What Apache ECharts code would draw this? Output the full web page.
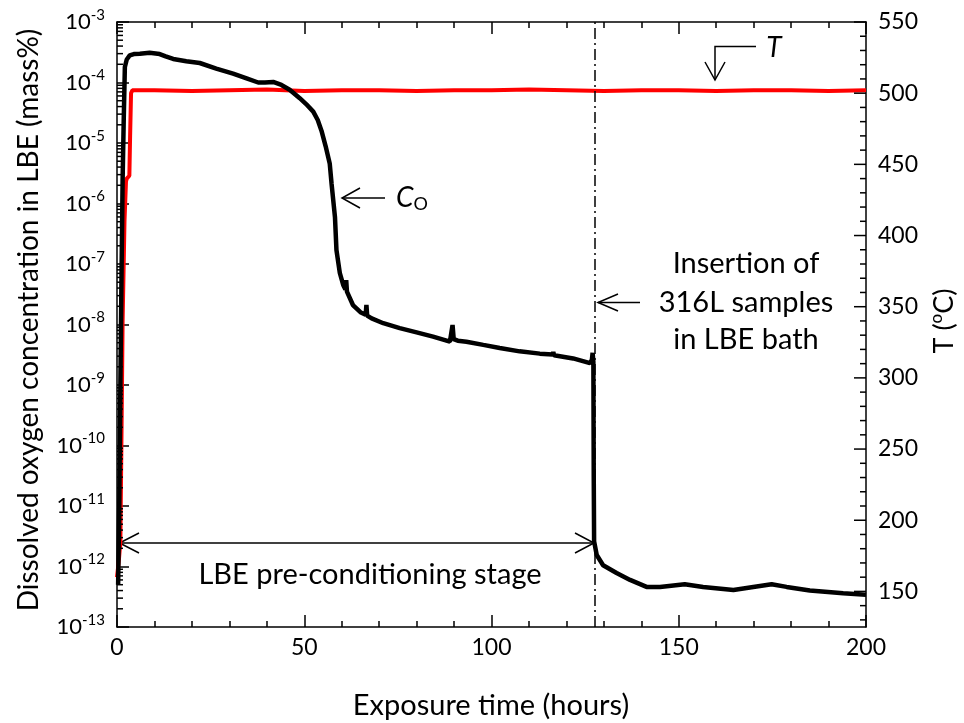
<!DOCTYPE html>
<html><head><meta charset="utf-8">
<script src="https://cdn.jsdelivr.net/npm/echarts@6/dist/echarts.min.js"></script>
<style>html,body{margin:0;padding:0;background:#fff}#c{width:964px;height:723px}</style>
</head><body><div id="c"></div>
<script>
// ---- data ----
const timeCo = [0.3,0.6,0.9,1.2,1.5,1.8,2.1,2.6,3.4,4.5,6.1,8.7,11.4,13,15,18.5,22.1,26.5,31,34.6,37.7,39.5,41.7,43.9,46.1,48.8,50.5,52.4,53.6,54.6,55.7,56.8,57.3,58.2,58.6,59.5,60.4,61.0,61.2,61.4,63,65,66.4,66.6,66.8,68,71.1,75.5,80,84.4,88.9,89.4,89.6,89.9,91,93.3,97.8,102.2,107.5,112.9,116.3,116.5,116.7,121.8,126.3,126.8,127.0,127.2,127.3,127.4,128.1,129.8,133.4,137,141.4,145,151.6,156.5,164.6,169.9,174.8,178.8,185,193.9,200];
const oxygenCo = [5.0e-13,1.0e-11,1.0e-9,6.3e-8,2.5e-6,2.5e-5,1.8e-4,2.4e-4,2.8e-4,2.95e-4,3.0e-4,3.1e-4,2.95e-4,2.7e-4,2.45e-4,2.25e-4,2.1e-4,1.7e-4,1.4e-4,1.17e-4,1.0e-4,1.0e-4,1.02e-4,9.1e-5,7.6e-5,5.5e-5,4.4e-5,3.3e-5,2.4e-5,1.6e-5,8.9e-6,4.6e-6,2.1e-6,6.0e-7,1.7e-7,7.1e-8,4.5e-8,3.8e-8,5.4e-8,3.5e-8,2.1e-8,1.6e-8,1.45e-8,2.1e-8,1.4e-8,1.26e-8,1.05e-8,8.7e-9,7.4e-9,6.3e-9,5.2e-9,5.6e-9,9.8e-9,5.75e-9,5.4e-9,5.2e-9,4.6e-9,4.1e-9,3.6e-9,3.3e-9,3.2e-9,3.5e-9,3.1e-9,2.75e-9,2.3e-9,2.6e-9,3.4e-9,2.4e-9,3.2e-11,2.6e-12,1.55e-12,1.05e-12,7.8e-13,6.0e-13,4.6e-13,4.6e-13,5.1e-13,4.6e-13,4.1e-13,4.6e-13,5.1e-13,4.6e-13,4.0e-13,3.6e-13,3.4e-13];
const timeT = [0,0.5,0.9,1.2,1.5,2.0,2.4,2.6,3.3,3.5,3.75,4.1,10,20,30,40,50,60,70,80,90,100,110,120,130,140,150,160,170,180,190,200];
const tempT = [160,172,185,260,340,410,438,440,442,470,500,502,502,501.5,502,502.5,501.5,502,502,501.5,502,502,502.5,502,501.5,502,502,501.5,502,502,501.5,502];
const xTickLabels = [0,50,100,150,200];
const tempTickLabels = [150,200,250,300,350,400,450,500,550];
const oxyDecades = [-13,-12,-11,-10,-9,-8,-7,-6,-5,-4,-3];
const insertionTime = 127.5;

const FONT = 'Lato, "Open Sans", sans-serif';
const chart = echarts.init(document.getElementById('c'), null, {renderer:'canvas'});

// minor tick positions (log decades, 2..9) and temperature minor/major ticks
const logMinor = [];
for (let i = 0; i < oxyDecades.length - 1; i++) {
  for (let k = 2; k <= 9; k++) logMinor.push([0, k * Math.pow(10, oxyDecades[i])]);
}
const tempTicks = [];
for (let v = 130; v <= 550; v += 10) tempTicks.push([200, v, tempTickLabels.indexOf(v) >= 0 ? 12 : 6]);

const axisBase = {
  axisLine: {show: true, onZero: false, lineStyle: {color: '#000', width: 1.5}},
  splitLine: {show: false}
};

chart.setOption({
  animation: false,
  backgroundColor: '#fff',
  grid: {left: 117, right: 98, top: 22, bottom: 96, containLabel: false},
  xAxis: [
    Object.assign({type: 'value', min: 0, max: 200, interval: 50, position: 'bottom',
      axisTick: {inside: true, length: 12, lineStyle: {color: '#000', width: 1.5}},
      minorTick: {show: true, splitNumber: 5, length: 6, lineStyle: {color: '#000', width: 1.5}},
      axisLabel: {color: '#000', fontSize: 23, fontFamily: FONT, margin: 9,
        formatter: v => xTickLabels.indexOf(v) >= 0 ? String(v) : ''}}, axisBase),
    Object.assign({type: 'value', min: 0, max: 200, interval: 50, position: 'top',
      axisTick: {inside: true, length: 12, lineStyle: {color: '#000', width: 1.5}},
      minorTick: {show: true, splitNumber: 5, length: 6, lineStyle: {color: '#000', width: 1.5}},
      axisLabel: {show: false}}, axisBase)
  ],
  yAxis: [
    Object.assign({type: 'log', logBase: 10, min: 1e-13, max: 1e-3, splitNumber: 10, position: 'left',
      axisTick: {inside: true, length: 12, lineStyle: {color: '#000', width: 1.5}},
      axisLabel: {color: '#000', margin: 12,
        formatter: v => '{b|10}{s|' + Math.round(Math.log10(v)) + '}',
        rich: {b: {fontSize: 22, fontFamily: FONT, color: '#000'},
               s: {fontSize: 15, fontFamily: FONT, color: '#000', padding: [0, 0, 14, 0]}}}}, axisBase),
    Object.assign({type: 'value', min: 125, max: 550, interval: 25, position: 'right',
      axisTick: {show: false},
      axisLabel: {color: '#000', fontSize: 23, fontFamily: FONT, margin: 12,
        formatter: v => tempTickLabels.indexOf(v) >= 0 ? String(v) : ''}}, axisBase)
  ],
  series: [
    {type: 'line', name: 'T', xAxisIndex: 0, yAxisIndex: 1, showSymbol: false, z: 3,
      lineStyle: {color: '#ff0000', width: 4}, data: timeT.map((t, i) => [t, tempT[i]])},
    {type: 'line', name: 'Co', xAxisIndex: 0, yAxisIndex: 0, showSymbol: false, z: 4,
      lineStyle: {color: '#000', width: 4.5}, data: timeCo.map((t, i) => [t, oxygenCo[i]]),
      markLine: {silent: true, symbol: ['none', 'none'], label: {show: false},
        lineStyle: {color: '#000', width: 1.5, type: [11, 4, 2, 4]},
        data: [{xAxis: insertionTime}]}},
    {type: 'custom', xAxisIndex: 0, yAxisIndex: 0, silent: true, clip: false, z: 5,
      data: logMinor,
      renderItem: (params, api) => {
        const p = api.coord([api.value(0), api.value(1)]);
        return {type: 'line', shape: {x1: p[0], y1: p[1], x2: p[0] + 6, y2: p[1]},
          style: {stroke: '#000', lineWidth: 1.5}};
      }},
    {type: 'custom', xAxisIndex: 0, yAxisIndex: 1, silent: true, clip: false, z: 5,
      data: tempTicks,
      renderItem: (params, api) => {
        const p = api.coord([api.value(0), api.value(1)]);
        const len = api.value(2);
        return {type: 'line', shape: {x1: p[0], y1: p[1], x2: p[0] - len, y2: p[1]},
          style: {stroke: '#000', lineWidth: 1.5}};
      }}
  ],
  graphic: [
    {type: 'text', x: 29, y: 320, rotation: Math.PI / 2,
      style: {text: 'Dissolved oxygen concentration in LBE (mass%)', fontSize: 28, fontFamily: FONT, fill: '#000', align: 'center', verticalAlign: 'middle'}},
    {type: 'text', x: 944, y: 321, rotation: Math.PI / 2,
      style: {text: '{a|T (}{s|o}{a|C)}', align: 'center', verticalAlign: 'middle',
        rich: {a: {fontSize: 27, fontFamily: FONT, fill: '#000'}, s: {fontSize: 17, fontFamily: FONT, fill: '#000', padding: [0, 0, 15, 0]}}}},
    {type: 'text', x: 491, y: 706,
      style: {text: 'Exposure time (hours)', fontSize: 29, fontFamily: FONT, fill: '#000', align: 'center', verticalAlign: 'middle'}},
    // C_O annotation
    {type: 'polyline', shape: {points: [[385, 198], [342, 198]]}, style: {stroke: '#000', lineWidth: 1.5, fill: null}},
    {type: 'polyline', shape: {points: [[360, 188], [342, 198], [360, 208]]}, style: {stroke: '#000', lineWidth: 1.5, fill: null}},
    {type: 'text', x: 396, y: 198,
      style: {text: '{c|C}{o|O}', align: 'left', verticalAlign: 'middle',
        rich: {c: {fontSize: 28, fontFamily: FONT, fontStyle: 'italic', fill: '#000'}, o: {fontSize: 18, fontFamily: FONT, fill: '#000', padding: [12, 0, 0, 0]}}}},
    // Insertion annotation
    {type: 'polyline', shape: {points: [[640, 302.5], [598, 302.5]]}, style: {stroke: '#000', lineWidth: 1.5, fill: null}},
    {type: 'polyline', shape: {points: [[618, 294], [598, 302.5], [618, 311]]}, style: {stroke: '#000', lineWidth: 1.5, fill: null}},
    {type: 'text', x: 746, y: 264, style: {text: 'Insertion of', fontSize: 29, fontFamily: FONT, fill: '#000', align: 'center', verticalAlign: 'middle'}},
    {type: 'text', x: 746, y: 303, style: {text: '316L samples', fontSize: 29, fontFamily: FONT, fill: '#000', align: 'center', verticalAlign: 'middle'}},
    {type: 'text', x: 746, y: 340, style: {text: 'in LBE bath', fontSize: 29, fontFamily: FONT, fill: '#000', align: 'center', verticalAlign: 'middle'}},
    // pre-conditioning stage
    {type: 'polyline', shape: {points: [[119, 543], [594, 543]]}, style: {stroke: '#000', lineWidth: 1.5, fill: null}},
    {type: 'polyline', shape: {points: [[139, 533], [119.5, 543], [139, 553]]}, style: {stroke: '#000', lineWidth: 1.5, fill: null}},
    {type: 'polyline', shape: {points: [[575, 533], [594, 543], [575, 553]]}, style: {stroke: '#000', lineWidth: 1.5, fill: null}},
    {type: 'text', x: 370, y: 575, style: {text: 'LBE pre-conditioning stage', fontSize: 29, fontFamily: FONT, fill: '#000', align: 'center', verticalAlign: 'middle'}},
    // T annotation
    {type: 'polyline', shape: {points: [[756, 46.5], [715, 46.5], [715, 80]]}, style: {stroke: '#000', lineWidth: 1.5, fill: null}},
    {type: 'polyline', shape: {points: [[705, 62], [715, 80], [725, 62]]}, style: {stroke: '#000', lineWidth: 1.5, fill: null}},
    {type: 'text', x: 774, y: 48, style: {text: 'T', fontSize: 28, fontStyle: 'italic', fontFamily: FONT, fill: '#000', align: 'center', verticalAlign: 'middle'}}
  ]
});
</script></body></html>
